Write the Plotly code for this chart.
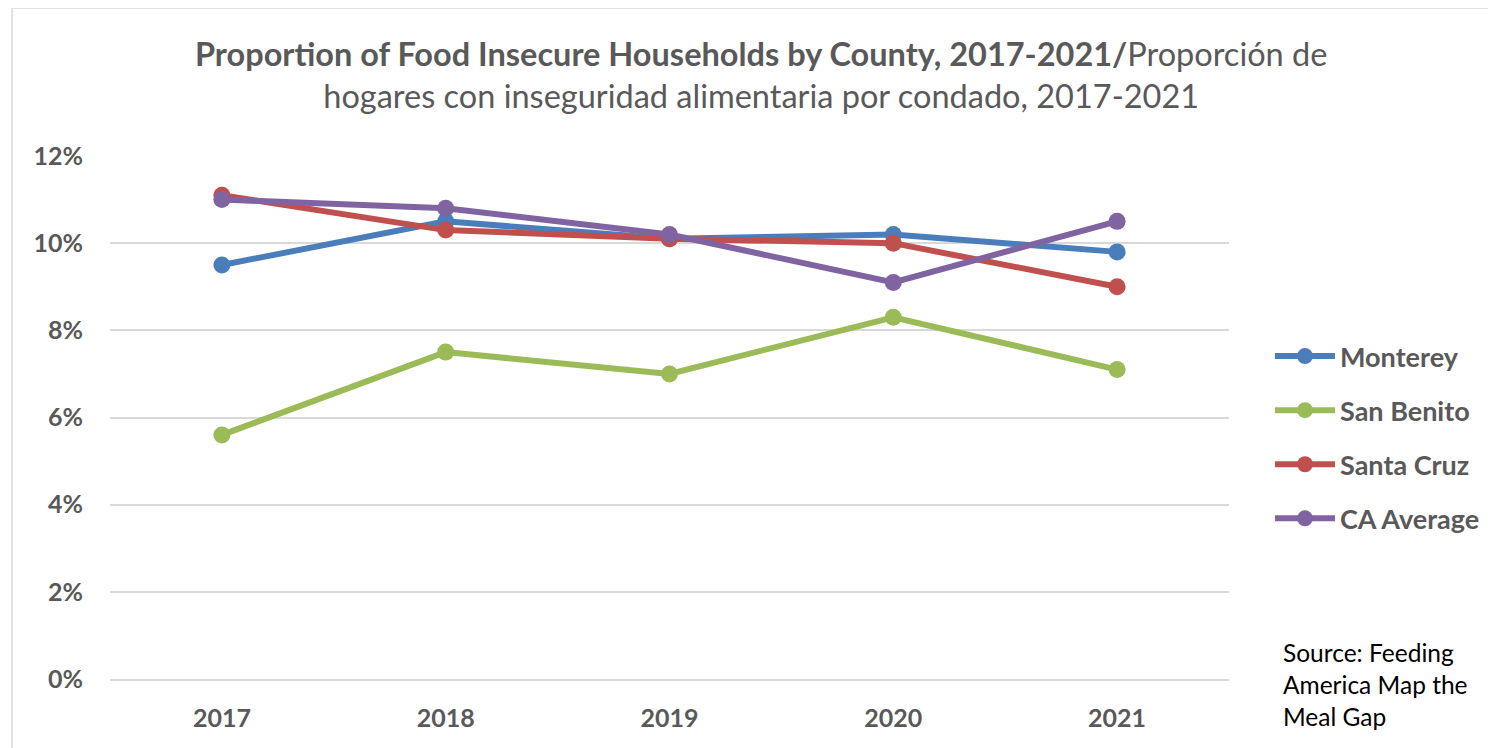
import plotly.graph_objects as go

years = ["2017", "2018", "2019", "2020", "2021"]
monterey = [0.095, 0.105, 0.101, 0.102, 0.098]
san_benito = [0.056, 0.075, 0.070, 0.083, 0.071]
santa_cruz = [0.111, 0.103, 0.101, 0.100, 0.090]
ca_average = [0.110, 0.108, 0.102, 0.091, 0.105]

series = [
    ("Monterey", monterey, "#4A7EBB"),
    ("San Benito", san_benito, "#9BBB59"),
    ("Santa Cruz", santa_cruz, "#C0504D"),
    ("CA Average", ca_average, "#8064A2"),
]

FONT = "Lato"
OFF = 8  # page body margin
W, H = 1496 - OFF, 748 - OFF
# plot area in window pixels: x 110..1230, y 156..679
L, T = 110 - OFF, 156 - OFF
pw, ph = 1120, 523
R, B = W - L - pw, H - T - ph


def px_x(x):
    # window pixel -> paper fraction
    return (x - OFF - L) / pw


def px_y(y):
    return (T + ph - (y - OFF)) / ph


fig = go.Figure()
for name, vals, color in series:
    fig.add_trace(
        go.Scatter(
            x=years,
            y=vals,
            name=name,
            legendgroup=name,
            mode="lines+markers",
            line=dict(color=color, width=6),
            marker=dict(color=color, size=17),
        )
    )

# chart frame
fig.add_shape(
    type="rect", xref="paper", yref="paper",
    x0=px_x(12), x1=px_x(1510), y0=px_y(8), y1=px_y(760),
    line=dict(color="#D9D9D9", width=1.5), layer="below",
)

fig.update_layout(
    width=W,
    height=H,
    margin=dict(l=L, r=R, t=T, b=B),
    plot_bgcolor="white",
    paper_bgcolor="white",
    font=dict(family=FONT, color="#595959"),
    showlegend=True,
    legend=dict(
        x=px_x(1270), y=px_y(332), xanchor="left", yanchor="top",
        font=dict(size=27, color="#595959", family=FONT, weight="bold"),
        tracegroupgap=16, itemwidth=60, bgcolor="rgba(0,0,0,0)",
    ),
    xaxis=dict(
        type="category",
        range=[-0.5, 4.5],
        showgrid=False,
        showline=True,
        linecolor="#D9D9D9",
        linewidth=1.5,
        ticks="",
        tickfont=dict(size=25, color="#595959", family=FONT, weight="bold"),
        ticklabelstandoff=16,
    ),
    yaxis=dict(
        range=[0, 0.12],
        dtick=0.02,
        tickformat=".0%",
        showgrid=True,
        gridcolor="#D9D9D9",
        gridwidth=1.5,
        zeroline=False,
        showline=False,
        ticks="",
        tickfont=dict(size=25, color="#595959", family=FONT, weight="bold"),
        ticklabelstandoff=26,
    ),
    annotations=[
        dict(
            x=px_x(762), y=px_y(74), xref="paper", yref="paper",
            xanchor="center", yanchor="middle", showarrow=False,
            align="center",
            text="<b>Proportion of Food Insecure Households by County, 2017-2021/</b>Proporción de<br>hogares con inseguridad alimentaria por condado, 2017-2021",
            font=dict(size=32.5, color="#595959", family=FONT),
        ),
        dict(
            x=px_x(1282), y=px_y(636), xref="paper", yref="paper",
            xanchor="left", yanchor="top", showarrow=False, align="left",
            text="Source: Feeding<br>America Map the<br>Meal Gap",
            font=dict(size=24.5, color="#000000", family=FONT),
        ),
    ],
)

fig.write_html("out.html")
